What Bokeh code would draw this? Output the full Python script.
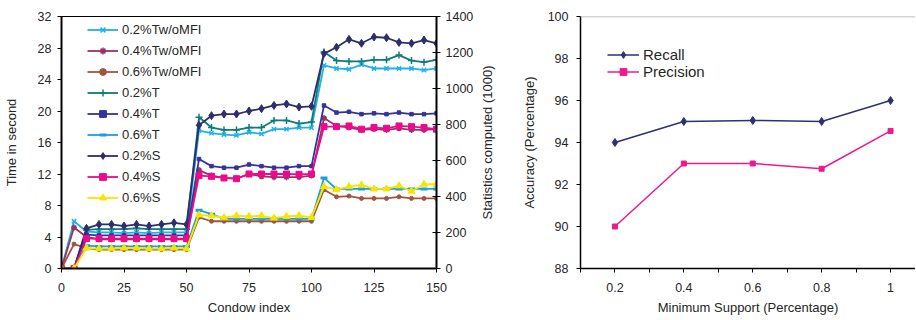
import math
from bokeh.plotting import figure
from bokeh.models import (Range1d, LinearAxis, FixedTicker, Legend, LegendItem,
                          Span, NumeralTickFormatter)
from bokeh.layouts import row
from bokeh.embed import file_html
from bokeh.resources import INLINE

# ---------------- data: left chart ----------------
condow = [0, 5, 10, 15, 20, 25, 30, 35, 40, 45, 50,
          55, 60, 65, 70, 75, 80, 85, 90, 95, 100,
          105, 110, 115, 120, 125, 130, 135, 140, 145, 150]
x_ticks = [0, 25, 50, 75, 100, 125, 150]
time_ticks = [0, 4, 8, 12, 16, 20, 24, 28, 32]
stat_ticks = [0, 200, 400, 600, 800, 1000, 1200, 1400]

# time in second
tw02 = [0, 6.0, 4.7, 4.6, 4.6, 4.5, 4.6, 4.5, 4.6, 4.6, 4.6,
        17.5, 17.2, 17.0, 16.9, 17.3, 17.1, 17.7, 17.7, 17.9, 17.9,
        25.8, 25.4, 25.3, 25.9, 25.4, 25.4, 25.4, 25.4, 25.2, 25.4]
tw04 = [0, 5.2, 4.0, 3.7, 3.7, 3.7, 3.7, 3.7, 3.7, 3.7, 3.7,
        12.5, 11.8, 11.5, 11.4, 12.0, 11.7, 11.6, 11.6, 11.6, 11.8,
        19.1, 18.1, 17.9, 17.6, 17.7, 17.6, 17.8, 17.6, 17.6, 17.7]
tw06 = [0, 3.1, 2.6, 2.4, 2.4, 2.4, 2.4, 2.4, 2.4, 2.4, 2.4,
        6.5, 6.0, 6.0, 6.0, 6.0, 6.0, 6.0, 6.0, 6.0, 6.0,
        10.0, 9.1, 9.2, 8.9, 8.9, 8.9, 9.1, 8.9, 8.9, 8.9]
t02 = [0, 0, 4.9, 5.0, 5.0, 5.0, 5.1, 5.0, 5.0, 5.0, 5.0,
       19.2, 17.9, 17.6, 17.6, 17.9, 17.9, 18.8, 18.8, 18.4, 18.6,
       27.5, 26.4, 26.3, 26.3, 26.5, 26.5, 27.1, 26.4, 26.2, 26.5]
t04 = [0, 0, 4.3, 4.2, 4.2, 4.2, 4.2, 4.2, 4.2, 4.2, 4.2,
       13.9, 13.0, 12.8, 12.8, 13.2, 13.0, 12.8, 12.8, 13.0, 13.0,
       20.7, 19.8, 19.9, 19.6, 19.7, 19.6, 19.8, 19.6, 19.6, 19.7]
t06 = [0, 0, 2.9, 2.8, 2.8, 2.8, 2.8, 2.8, 2.8, 2.8, 2.8,
       7.4, 6.9, 6.3, 6.3, 6.3, 6.3, 6.3, 6.3, 6.3, 6.3,
       11.5, 10.1, 10.1, 10.1, 10.1, 10.1, 10.1, 10.1, 10.1, 10.1]
# statistics computed (1000)
s02 = [0, 0, 223, 245, 245, 236, 245, 236, 245, 254, 245,
       796, 849, 858, 858, 875, 888, 906, 914, 897, 901,
       1194, 1229, 1273, 1251, 1286, 1282, 1256, 1251, 1269, 1251]
s04 = [0, 0, 166, 166, 166, 166, 166, 166, 166, 166, 166,
       516, 512, 503, 499, 525, 525, 525, 525, 523, 525,
       788, 788, 792, 774, 783, 779, 792, 788, 783, 774]
s06 = [0, 0, 114, 110, 110, 114, 114, 110, 110, 114, 110,
       298, 293, 282, 293, 289, 293, 280, 289, 293, 284,
       455, 438, 455, 464, 442, 442, 459, 429, 468, 468]

# ---------------- data: right chart ----------------
support = [0.2, 0.4, 0.6, 0.8, 1.0]
support_minor = [0.1, 0.3, 0.5, 0.7, 0.9]
recall = [94.0, 95.0, 95.05, 95.0, 96.0]
precision = [90.0, 93.0, 93.0, 92.75, 94.55]
acc_ticks = [88, 90, 92, 94, 96, 98, 100]

FONT = "Liberation Sans"
TXT = "#262626"


def style_axis(ax, width=2):
    ax.axis_line_color = "black"
    ax.axis_line_width = width
    ax.major_tick_line_color = "black"
    ax.major_tick_line_width = 1
    ax.major_tick_out = 4
    ax.major_tick_in = 0
    ax.minor_tick_line_color = None
    ax.major_label_text_font = FONT
    ax.major_label_text_font_size = "12.5px"
    ax.major_label_text_color = TXT
    ax.axis_label_text_font = FONT
    ax.axis_label_text_font_size = "13px"
    ax.axis_label_text_font_style = "normal"
    ax.axis_label_text_color = TXT


# ---------------- left figure ----------------
p = figure(width=476, height=318, x_range=Range1d(0, 150), y_range=Range1d(0, 32),
           output_backend="svg", toolbar_location=None,
           min_border_left=61, min_border_right=37, min_border_top=16, min_border_bottom=50)
p.extra_y_ranges = {"stat": Range1d(0, 1400)}
p.xgrid.visible = False
p.ygrid.visible = False
p.outline_line_color = "black"
p.outline_line_width = 1
p.background_fill_color = "white"

p.xaxis.ticker = FixedTicker(ticks=x_ticks)
p.yaxis.ticker = FixedTicker(ticks=time_ticks)
p.xaxis.axis_label = "Condow index"
p.yaxis.axis_label = "Time in second"
for ax in p.xaxis:
    style_axis(ax)
    ax.major_label_standoff = 10
    ax.axis_label_standoff = 5
for ax in p.yaxis:
    style_axis(ax)
    ax.major_label_standoff = 6
    ax.axis_label_standoff = 16

ax2 = LinearAxis(y_range_name="stat", ticker=FixedTicker(ticks=stat_ticks))
style_axis(ax2)
ax2.major_tick_in = 4
ax2.major_label_standoff = 5
p.add_layout(ax2, "right")

series = [
    ("0.2%Tw/oMFI", tw02, "default", "#22b0e8", "x", 6, 1.5),
    ("0.4%Tw/oMFI", tw04, "default", "#993366", "asterisk", 6, 1.5),
    ("0.6%Tw/oMFI", tw06, "default", "#a0553f", "circle", 4, 1),
    ("0.2%T", t02, "default", "#0e7c7b", "cross", 7, 1.5),
    ("0.4%T", t04, "default", "#333399", "square", 3.5, 1),
    ("0.6%T", t06, "default", "#1c9fe0", "dash", 7, 3),
    ("0.2%S", s02, "stat", "#2e2e6e", "diamond", 8, 1),
    ("0.4%S", s04, "stat", "#ec0a8c", "square", 6, 1),
    ("0.6%S", s06, "stat", "#f5e600", "triangle", 7, 1),
]
items = []
for name, ys, rng, col, mk, sz, mlw in series:
    ln = p.line(condow, ys, y_range_name=rng, line_color=col, line_width=1.8)
    sc = p.scatter(condow, ys, y_range_name=rng, marker=mk, size=sz,
                   line_color=col, fill_color=col, line_width=mlw)
    items.append(LegendItem(label=name, renderers=[ln, sc]))

leg = Legend(items=items, location=(26, 60), orientation="vertical",
             glyph_width=31, glyph_height=17, label_height=21, spacing=0,
             padding=0, margin=0, label_standoff=4,
             label_text_font=FONT, label_text_font_size="13px", label_text_color=TXT,
             border_line_color=None, background_fill_alpha=0)
p.add_layout(leg)

# ---------------- narrow strip holding the right-axis title ----------------
f = figure(width=24, height=318, x_range=Range1d(0, 1), y_range=Range1d(0, 1400),
           output_backend="svg", toolbar_location=None,
           min_border_left=19, min_border_right=0, min_border_top=16, min_border_bottom=50)
f.xaxis.visible = False
f.xgrid.visible = False
f.ygrid.visible = False
f.outline_line_color = None
f.yaxis.ticker = FixedTicker(ticks=[])
f.yaxis.axis_line_color = None
f.yaxis.major_tick_line_color = None
f.yaxis.minor_tick_line_color = None
f.yaxis.major_label_standoff = 0
f.yaxis.axis_label = "Statistics computed (1000)"
f.yaxis.axis_label_standoff = 2
f.yaxis.axis_label_text_font = FONT
f.yaxis.axis_label_text_font_size = "13px"
f.yaxis.axis_label_text_font_style = "normal"
f.yaxis.axis_label_text_color = TXT

# ---------------- right figure ----------------
q = figure(width=415, height=318, x_range=Range1d(0.1, 1.0724), y_range=Range1d(88, 100),
           output_backend="svg", toolbar_location=None,
           min_border_left=80, min_border_right=0, min_border_top=16, min_border_bottom=50)
q.xgrid.visible = False
q.ygrid.visible = False
q.outline_line_color = None
q.background_fill_color = "white"

q.xaxis.ticker = FixedTicker(ticks=support, minor_ticks=support_minor)
q.xaxis.formatter = NumeralTickFormatter(format="0.[0]")
q.yaxis.ticker = FixedTicker(ticks=acc_ticks)
q.xaxis.axis_label = "Minimum Support (Percentage)"
q.yaxis.axis_label = "Accuracy (Percentage)"
for ax in q.xaxis:
    style_axis(ax, 1.5)
    ax.minor_tick_line_color = "black"
    ax.minor_tick_out = 4
    ax.minor_tick_in = 0
    ax.major_label_standoff = 10
    ax.axis_label_standoff = 5
for ax in q.yaxis:
    style_axis(ax, 1.5)
    ax.major_label_standoff = 8
    ax.axis_label_standoff = 8

q.add_layout(Span(location=100, dimension="width", line_color="#a6a6a6", line_width=1.5))

r1 = q.line(support, recall, line_color="#2e3170", line_width=1.5)
r1m = q.scatter(support, recall, marker="diamond", size=8, line_color="#2e3170",
                fill_color="#2e3170")
r2 = q.line(support, precision, line_color="#ec1a8c", line_width=1.5)
r2m = q.scatter(support, precision, marker="square", size=5, line_color="#ec1a8c",
                fill_color="#ec1a8c")

leg2 = Legend(items=[LegendItem(label="Recall", renderers=[r1, r1m]),
                     LegendItem(label="Precision", renderers=[r2, r2m])],
              location=(27, 188), glyph_width=32, glyph_height=17, label_height=17,
              spacing=0, padding=0, margin=0, label_standoff=4,
              label_text_font=FONT, label_text_font_size="15px", label_text_color=TXT,
              border_line_color=None, background_fill_alpha=0)
q.add_layout(leg2)

layout = row(p, f, q)
open("out.html", "w").write(file_html(layout, INLINE))
